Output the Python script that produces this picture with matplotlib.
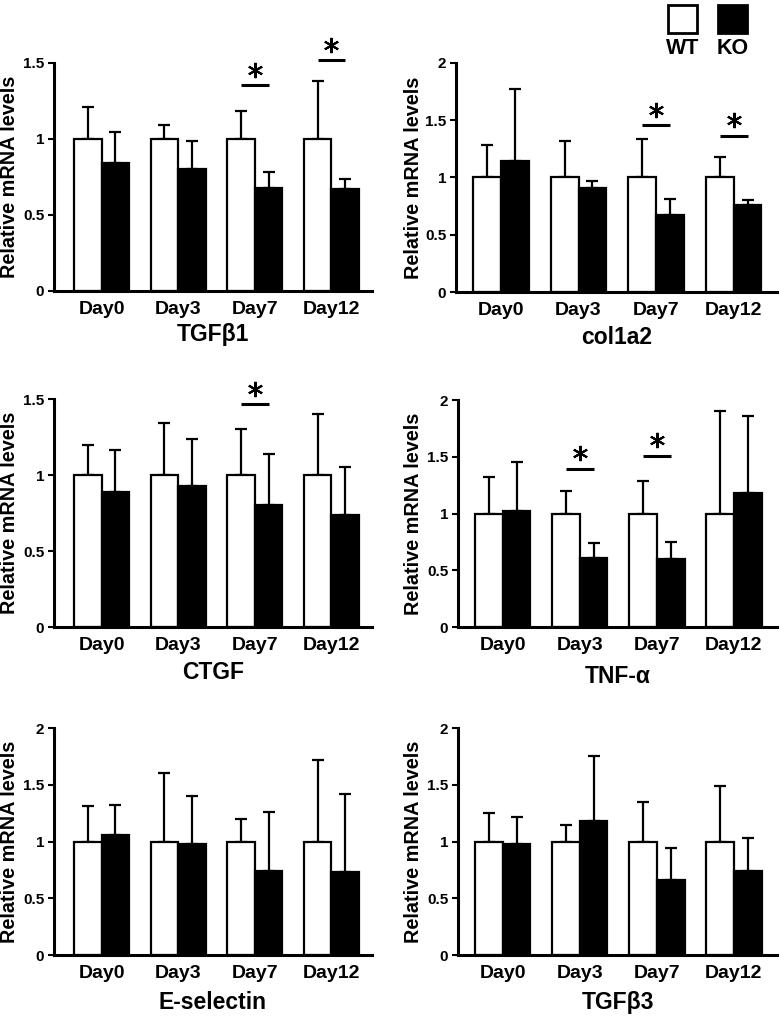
import matplotlib
matplotlib.use('Agg')
import matplotlib.pyplot as plt
import matplotlib.transforms as mtransforms
from matplotlib.patches import Rectangle
import numpy as np

plt.rcParams['font.family'] = ['Liberation Sans', 'DejaVu Sans']
plt.rcParams['font.weight'] = 'bold'

days = ['Day0', 'Day3', 'Day7', 'Day12']
genes = ['TGF\u03b21', 'col1a2', 'CTGF', 'TNF-\u03b1', 'E-selectin', 'TGF\u03b23']

# mean values (WT normalised to 1)
wt_mean = [1, 1, 1, 1]
ko_mean = {
    'TGF\u03b21': [0.84, 0.80, 0.68, 0.67],
    'col1a2': [1.14, 0.91, 0.675, 0.76],
    'CTGF': [0.89, 0.93, 0.805, 0.74],
    'TNF-\u03b1': [1.02, 0.61, 0.60, 1.185],
    'E-selectin': [1.06, 0.975, 0.74, 0.73],
    'TGF\u03b23': [0.975, 1.18, 0.665, 0.74],
}
# top of the error bars (mean + SD)
wt_top = {
    'TGF\u03b21': [1.21, 1.09, 1.185, 1.38],
    'col1a2': [1.28, 1.32, 1.34, 1.18],
    'CTGF': [1.20, 1.34, 1.305, 1.40],
    'TNF-\u03b1': [1.32, 1.20, 1.285, 1.90],
    'E-selectin': [1.31, 1.60, 1.20, 1.72],
    'TGF\u03b23': [1.25, 1.145, 1.35, 1.49],
}
ko_top = {
    'TGF\u03b21': [1.045, 0.99, 0.78, 0.74],
    'col1a2': [1.77, 0.97, 0.81, 0.80],
    'CTGF': [1.167, 1.235, 1.14, 1.053],
    'TNF-\u03b1': [1.45, 0.74, 0.745, 1.856],
    'E-selectin': [1.32, 1.40, 1.26, 1.42],
    'TGF\u03b23': [1.22, 1.75, 0.94, 1.035],
}
ymax = {'TGF\u03b21': 1.5, 'col1a2': 2, 'CTGF': 1.5, 'TNF-\u03b1': 2, 'E-selectin': 2, 'TGF\u03b23': 2}
# significance: (day index, height of the bar)
signif = {
    'TGF\u03b21': [(2, 1.355), (3, 1.52)],
    'col1a2': [(2, 1.46), (3, 1.365)],
    'CTGF': [(2, 1.465)],
    'TNF-\u03b1': [(1, 1.396), (2, 1.51)],
    'E-selectin': [],
    'TGF\u03b23': [],
}

W, H = 780, 1021
fig = plt.figure(figsize=(W / 100, H / 100), dpi=100)

# axes boxes in pixels: left, right, bottom, top
boxes = [(54, 372, 291, 63), (456, 777, 292, 63),
         (54, 372, 627, 399), (458, 777, 627, 400),
         (54, 372, 955, 728), (458, 777, 955, 728)]
title_off = [44, 45, 45, 49, 47, 47]
ylabel_x = [19, 423]  # pixel x of the y label baseline, left / right column

bw = 0.36
x = np.arange(len(days))

for k, g in enumerate(genes):
    l, r, b, t = boxes[k]
    ax = fig.add_axes([l / W, 1 - b / H, (r - l) / W, (b - t) / H])
    xw = x - bw / 2
    xk = x + bw / 2
    ax.bar(xw, wt_mean, bw, color='white', edgecolor='black', linewidth=1.6, zorder=2)
    ax.bar(xk, ko_mean[g], bw, color='black', edgecolor='black', linewidth=1.6, zorder=2)
    ax.errorbar(xw, wt_mean, yerr=[np.zeros(4), np.array(wt_top[g]) - wt_mean],
                fmt='none', ecolor='black', elinewidth=1.6, capsize=4.5, capthick=1.6, zorder=1)
    ax.errorbar(xk, ko_mean[g], yerr=[np.zeros(4), np.array(ko_top[g]) - np.array(ko_mean[g])],
                fmt='none', ecolor='black', elinewidth=1.6, capsize=4.5, capthick=1.6, zorder=1)

    # significance bar + asterisk
    star_tr = mtransforms.offset_copy(ax.transData, fig=fig, y=11, units='points')
    for d, h in signif[g]:
        ax.plot([xw[d], xk[d]], [h, h], color='black', lw=2.2, clip_on=False,
                solid_capstyle='butt')
        ax.plot([x[d]], [h], marker=(6, 2, 0), markersize=11, mew=1.5, color='black',
                transform=star_tr, clip_on=False)

    ax.set_ylim(0, ymax[g])
    if k % 2 == 0:
        ax.set_xlim(-0.62, 3.53)
    else:
        ax.set_xlim(-0.58, 3.56)
    yt = np.arange(0, ymax[g] + 0.01, 0.5)
    ax.set_yticks(yt)
    ax.set_yticklabels(['%g' % v for v in yt], fontsize=11, fontweight='bold')
    ax.set_xticks(x)
    ax.set_xticklabels(days, fontsize=14, fontweight='bold')
    ax.tick_params(axis='x', length=0, pad=7)
    ax.tick_params(axis='y', length=4, width=1.5, direction='out', pad=3)
    for s in ['top', 'right']:
        ax.spines[s].set_visible(False)
    for s in ['left', 'bottom']:
        ax.spines[s].set_linewidth(2.2)
    ax.set_ylabel('Relative mRNA levels', fontsize=14.3, fontweight='bold')
    ax.yaxis.set_label_coords(-(l - ylabel_x[k % 2]) / (r - l), 0.5)
    ax.text(0.5, -title_off[k] / (b - t), g, transform=ax.transAxes, ha='center', va='center',
            fontsize=16.5, fontweight='bold')

# legend
for i, (lab, fc) in enumerate([('WT', 'white'), ('KO', 'black')]):
    x0 = [668, 718][i]
    fig.add_artist(Rectangle((x0 / W, 1 - 33 / H), 29 / W, 28 / H, facecolor=fc,
                             edgecolor='black', linewidth=2, transform=fig.transFigure))
    fig.text((x0 + 14.5) / W, 1 - 49 / H, lab, ha='center', va='center', fontsize=15.5,
             fontweight='bold')

fig.savefig('out.png', dpi=100)
